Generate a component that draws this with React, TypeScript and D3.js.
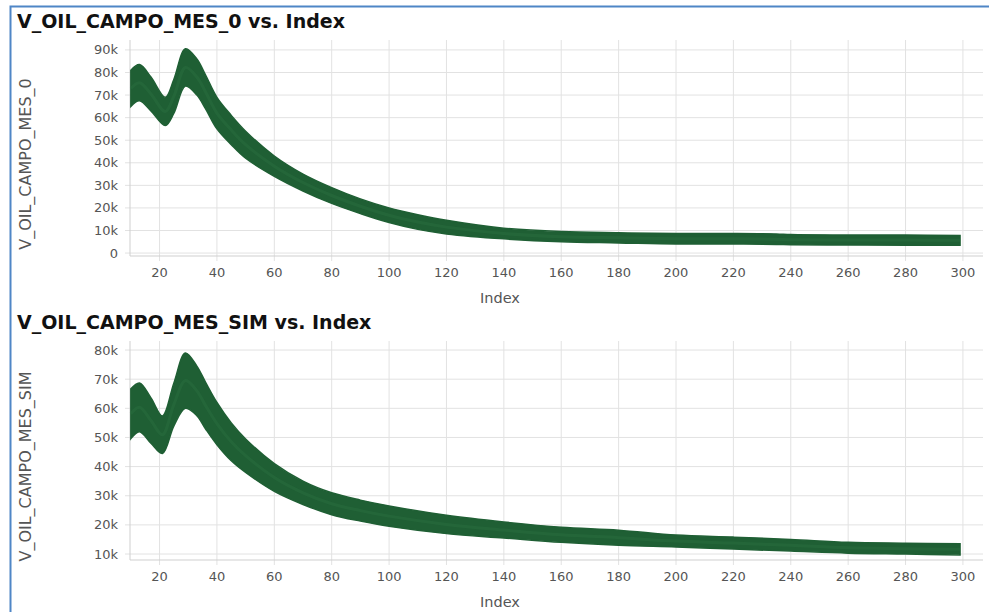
import * as d3 from "d3";
import React from "react";

// index positions of the sampled band edges
const idxTop = [10, 13, 17, 22, 25, 29, 33, 36, 40, 45, 50, 60, 70, 80, 90, 100, 110, 120, 140, 160, 180, 200, 220, 235, 240, 260, 280, 299];
const upperTop = [81, 83.5, 78, 69, 77, 90.5, 86, 79, 69, 61, 54, 43, 35, 29, 24, 20, 17, 14.5, 11, 9.5, 9, 8.7, 8.7, 8.5, 8.2, 8, 8, 7.8];
const lowerTop = [65, 67.5, 63, 56.5, 62, 74, 70, 64, 55, 48, 42, 34, 27.5, 22, 17.5, 13.5, 10.5, 8.5, 6.3, 5, 4.5, 4, 4, 3.8, 3.7, 3.6, 3.5, 3.5];

const idxSim = [10, 13, 17, 21, 25, 29, 33, 36, 40, 45, 50, 60, 70, 80, 90, 100, 120, 140, 160, 180, 200, 220, 240, 260, 280, 299];
const upperSim = [66.7, 68.7, 63.6, 57.4, 68.7, 79, 74.5, 69, 62, 55, 49.5, 41, 35, 31, 28.5, 26.5, 23.3, 21, 19.2, 18.2, 16.5, 15.8, 15, 14, 13.7, 13.5];
const lowerSim = [49.6, 52, 48, 44.5, 54, 60, 57.5, 53, 47.5, 42, 38, 31.5, 27, 23.5, 21.3, 19.5, 17, 15.5, 14, 13, 12.4, 11.7, 11, 10.3, 10, 9.7];

const xTicks = d3.range(20, 301, 20);
const yTicksTop = d3.range(0, 90001, 10000);
const yTicksSim = d3.range(10000, 80001, 10000);

const FONT = "'DejaVu Sans', Verdana, sans-serif";
const BAND = "#1f5f34";
const MID = "#2d7545";

function Panel({ title, yLabel, idx, upper, lower, yDomain, yTicks, top, bottom }) {
    const x = d3.scaleLinear().domain([9.7, 307]).range([130, 983]);
    const y = d3.scaleLinear().domain(yDomain).range([bottom, top]);
    const rows = idx.map((d, i) => ({ i: d, hi: upper[i] * 1000, lo: lower[i] * 1000 }));
    const area = d3.area()
        .x((d) => x(d.i))
        .y0((d) => y(d.lo))
        .y1((d) => y(d.hi))
        .curve(d3.curveCatmullRom.alpha(0.5));
    const mid = d3.line()
        .x((d) => x(d.i))
        .y((d) => y((d.hi + d.lo) / 2))
        .curve(d3.curveCatmullRom.alpha(0.5));
    const fmt = (v) => (v === 0 ? "0" : `${v / 1000}k`);

    return (
        <g>
            <text x={17} y={top - 12} fontFamily={FONT} fontWeight="bold" fontSize={19} fill="#111">
                {title}
            </text>
            {/* grid */}
            {xTicks.map((t) => (
                <line key={"gx" + t} x1={x(t)} x2={x(t)} y1={top} y2={bottom + 5} stroke="#e2e2e2" />
            ))}
            {yTicks.map((t) => (
                <line key={"gy" + t} x1={125} x2={983} y1={y(t)} y2={y(t)} stroke="#e2e2e2" />
            ))}
            <line x1={130} x2={130} y1={top} y2={bottom} stroke="#cfcfcf" />
            <line x1={130} x2={983} y1={bottom} y2={bottom} stroke="#cfcfcf" />
            {/* band */}
            <path d={area(rows)} fill={BAND} stroke={BAND} strokeWidth={1.5} />
            <path d={mid(rows)} fill="none" stroke={MID} strokeWidth={3} opacity={0.35} />
            {/* tick labels */}
            {yTicks.map((t) => (
                <text key={"ly" + t} x={118} y={y(t)} dy="0.35em" textAnchor="end"
                    fontFamily={FONT} fontSize={13} fill="#555">
                    {fmt(t)}
                </text>
            ))}
            {xTicks.map((t) => (
                <text key={"lx" + t} x={x(t)} y={bottom + 16} dy="0.35em" textAnchor="middle"
                    fontFamily={FONT} fontSize={13} fill="#555">
                    {t}
                </text>
            ))}
            <text x={500} y={bottom + 42} dy="0.35em" textAnchor="middle" fontFamily={FONT} fontSize={14.5} fill="#555">
                Index
            </text>
            <text transform={`translate(31, ${(top + bottom) / 2 + 16}) rotate(-90)`} textAnchor="middle"
                fontFamily={FONT} fontSize={16} fill="#555">
                {yLabel}
            </text>
        </g>
    );
}

export default function App() {
    return (
        <svg width={989} height={612} style={{ position: "absolute", left: 0, top: 0, background: "#fff" }}>
            <rect x={0} y={0} width={989} height={612} fill="#fff" />
            <Panel title="V_OIL_CAMPO_MES_0 vs. Index" yLabel="V_OIL_CAMPO_MES_0"
                idx={idxTop} upper={upperTop} lower={lowerTop}
                yDomain={[-1300, 94400]} yTicks={yTicksTop} top={40} bottom={256} />
            <Panel title="V_OIL_CAMPO_MES_SIM vs. Index" yLabel="V_OIL_CAMPO_MES_SIM"
                idx={idxSim} upper={upperSim} lower={lowerSim}
                yDomain={[7950, 83100]} yTicks={yTicksSim} top={341} bottom={560} />
            <rect x={10.5} y={6.5} width={1000} height={700} fill="none" stroke="#4f86c6" strokeWidth={2} />
        </svg>
    );
}
